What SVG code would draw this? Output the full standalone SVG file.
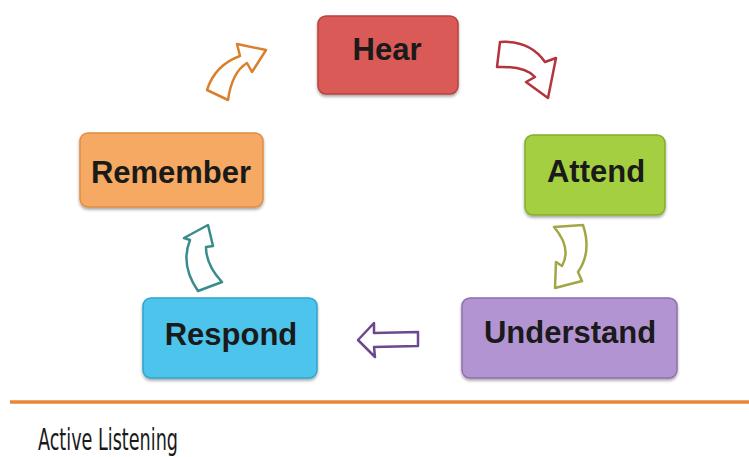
<svg xmlns="http://www.w3.org/2000/svg" width="749" height="457" viewBox="0 0 749 457">
<defs>
<filter id="sh" x="-10%" y="-10%" width="120%" height="130%">
<feGaussianBlur in="SourceAlpha" stdDeviation="1.5"/>
<feOffset dx="0" dy="2"/>
<feComponentTransfer><feFuncA type="linear" slope="0.35"/></feComponentTransfer>
<feMerge><feMergeNode/><feMergeNode in="SourceGraphic"/></feMerge>
</filter>
</defs>
<style>
.box{stroke-width:1.5;filter:url(#sh)}
.lbl{font-family:"Liberation Sans",Arial,sans-serif;font-weight:bold;font-size:31px;fill:#1a1a1a;text-anchor:middle}
.arr{fill:#ffffff;stroke-width:2.5;stroke-linejoin:round}
</style>
<rect width="749" height="457" fill="#ffffff"/>
<g id="hear">
<rect class="box" x="318" y="16" width="140" height="78" rx="8" fill="#d95a56" stroke="#b8403e"/>
<text class="lbl" x="387" y="60">Hear</text>
</g>
<g id="attend">
<rect class="box" x="525" y="135" width="140" height="80" rx="8" fill="#a3cf3f" stroke="#86ad2e"/>
<text class="lbl" x="596" y="182">Attend</text>
</g>
<g id="understand">
<rect class="box" x="462" y="298" width="215" height="80" rx="8" fill="#b394d2" stroke="#8f6fae"/>
<text class="lbl" x="570" y="343">Understand</text>
</g>
<g id="respond">
<rect class="box" x="143" y="298" width="174" height="80" rx="8" fill="#4ec4ec" stroke="#2fa5cf"/>
<text class="lbl" x="231" y="345">Respond</text>
</g>
<g id="remember">
<rect class="box" x="80" y="133" width="183" height="74" rx="8" fill="#f5a964" stroke="#e08d45"/>
<text class="lbl" x="171" y="183">Remember</text>
</g>
<g id="connectors">
<path class="arr" stroke="#d9802c" d="M 207 90 Q 215 65 240 56 L 237 44 L 266 50 L 252 72 L 247 63 Q 232 72 228 100 Z"/>
<path class="arr" stroke="#b3343c" d="M 500 42 Q 530 40 545 62 L 556 58 L 548 98 L 526 82 L 535 77 Q 525 66 497 67 Z"/>
<path class="arr" stroke="#a2a645" d="M 554 227 L 583 225 Q 592 252 578 272 L 582 281 L 555 288 L 556 262 L 562 266 Q 572 248 554 227 Z"/>
<path class="arr" stroke="#6a4a8c" d="M 358 340 L 374 323 L 374 333 L 418 332 L 418 346 L 374 347 L 375 357 Z"/>
<path class="arr" stroke="#3a8c8c" d="M 208 225 L 213 246 L 206 247 Q 206 265 222 282 L 198 291 Q 180 265 190 240 L 184 238 Z"/>
</g>
<line x1="10" y1="402" x2="749" y2="402" stroke="#e8873a" stroke-width="3.5"/>
<text transform="translate(38,450) scale(1,1.4)" font-family="'DejaVu Sans Condensed',sans-serif" font-size="22" textLength="140" lengthAdjust="spacingAndGlyphs" fill="#1a1a1a">Active Listening</text>
</svg>
